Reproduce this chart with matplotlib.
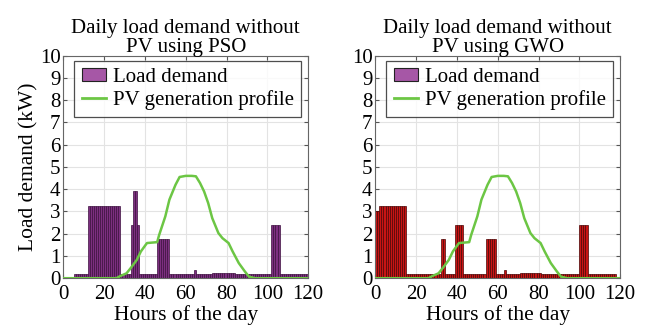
import numpy as np
import matplotlib
matplotlib.use("Agg")
import matplotlib.pyplot as plt
from matplotlib.patches import Patch
from matplotlib.lines import Line2D

plt.rcParams['font.family'] = ['Liberation Serif', 'DejaVu Serif']

# hourly load demand (kW), bar for hour h spans [h, h+1)
hours = np.arange(0, 120)

load_pso = np.zeros(120)
load_pso[5:120] = 0.2
load_pso[12:28] = 3.25
load_pso[33] = 2.4
load_pso[34:36] = 3.9
load_pso[36] = 2.4
load_pso[46:52] = 1.75
load_pso[64] = 0.35
load_pso[73:84] = 0.25
load_pso[102:106] = 2.4

load_gwo = np.zeros(120)
load_gwo[0:118] = 0.2
load_gwo[0:2] = 3.0
load_gwo[2:15] = 3.25
load_gwo[32:34] = 1.75
load_gwo[39:43] = 2.4
load_gwo[54:59] = 1.75
load_gwo[63] = 0.35
load_gwo[71:81] = 0.25
load_gwo[100:104] = 2.4

# PV generation profile (kW)
pv_hours = [0, 26, 28, 31, 33, 36, 38, 41, 46, 47, 50, 52, 55, 57, 60, 63, 65,
            67, 69, 71, 73, 76, 78, 81, 83, 86, 89, 91, 94, 120]
pv_values = [0, 0, 0.1, 0.22, 0.45, 0.82, 1.2, 1.58, 1.62, 1.95, 2.78, 3.53, 4.2,
             4.55, 4.6, 4.6, 4.58, 4.28, 3.9, 3.38, 2.7, 2.03, 1.8, 1.58, 1.2,
             0.68, 0.3, 0.07, 0, 0]

titles = ["Daily load demand without\nPV using PSO", "Daily load demand without\nPV using GWO"]
face_colors = ["#7d2f80", "#c81414"]
edge_colors = ["#3c103e", "#4a0606"]
legend_face = "#a657a6"
pv_color = "#6cc644"

fig = plt.figure(figsize=(6.46, 3.30), dpi=100)
axes = [fig.add_axes([0.098, 0.157, 0.379, 0.674]),
        fig.add_axes([0.581, 0.157, 0.379, 0.674])]

for i, (ax, load) in enumerate(zip(axes, [load_pso, load_gwo])):
    ax.bar(hours, load, width=1.0, align='edge', color=face_colors[i],
           edgecolor=edge_colors[i], linewidth=0.5, zorder=2)
    ax.plot(pv_hours, pv_values, color=pv_color, linewidth=1.8, zorder=3)
    ax.set_xlim(0, 120)
    ax.set_ylim(0, 10)
    ax.set_xticks(range(0, 121, 20))
    ax.set_yticks(range(0, 11))
    ax.grid(True, color="#e3e3e3", linewidth=0.8, zorder=0)
    ax.set_axisbelow(True)
    ax.tick_params(direction='in', top=True, right=True, labelsize=15,
                   length=3, color="#555555", pad=2)
    ax.tick_params(axis='x', pad=5)
    for s in ax.spines.values():
        s.set_color("#666666")
        s.set_linewidth(0.8)
    ax.set_title(titles[i], fontsize=15, linespacing=0.95, pad=3)
    ax.set_xlabel("Hours of the day", fontsize=15.5, labelpad=1)
    handles = [Patch(facecolor=legend_face, edgecolor="#222222", linewidth=0.8),
               Line2D([], [], color=pv_color, linewidth=2)]
    leg = ax.legend(handles, ["Load demand", "PV generation profile"],
                    loc='upper left', bbox_to_anchor=(0.045, 0.978), fontsize=15,
                    frameon=True, fancybox=False, edgecolor="#222222",
                    borderpad=0.35, labelspacing=0.15, handlelength=1.15,
                    handleheight=0.6, handletextpad=0.35, borderaxespad=0.0)
    leg.get_frame().set_linewidth(0.9)

axes[0].set_ylabel("Load demand (kW)", fontsize=15.5, labelpad=1)

fig.savefig("out.png", dpi=100)
